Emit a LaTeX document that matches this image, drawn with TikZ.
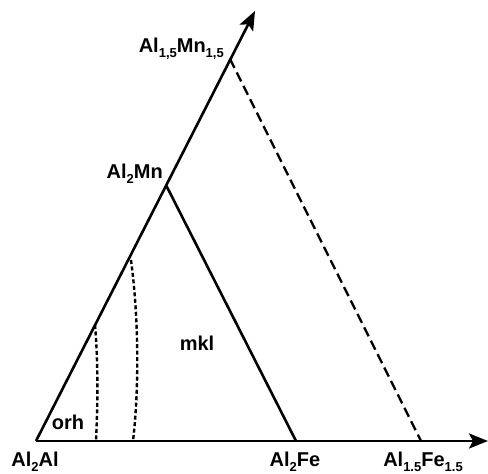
\documentclass[tikz,border=0pt]{standalone}
\usepackage{fontspec}
\setmainfont{Liberation Sans}
\usetikzlibrary{arrows.meta,calc}
\newcommand\sbx[1]{\raisebox{-0.45ex}{\fontsize{13}{13}\selectfont #1}}
\begin{document}
\begin{tikzpicture}[x=1pt,y=-1pt,
  axisline/.style={line width=2.6pt,-{Stealth[length=19pt,width=15pt,inset=4pt]}},
  solidline/.style={line width=2.6pt},
  dashline/.style={line width=2.4pt,dash pattern=on 10pt off 5pt},
  dotline/.style={line width=2.4pt,dash pattern=on 4pt off 2.5pt},
  lbl/.style={font=\fontsize{20}{20}\selectfont\bfseries,inner sep=0pt}]
\useasboundingbox (0,0) rectangle (488,474);
\coordinate (o) at (36,441);
\coordinate (xend) at (488,441);
\coordinate (yend) at (255,11);
\coordinate (mn2) at (166,185);
\coordinate (mn15) at (230,59);
\coordinate (fe2) at (296,441);
\coordinate (fe15) at (421,441);
\coordinate (d1t) at (95,325);
\coordinate (d1b) at (96,441);
\coordinate (d2t) at (131,260);
\coordinate (d2b) at (133,441);
\draw[axisline] (o) -- (xend);
\draw[axisline] (o) -- (yend);
\draw[solidline] (mn2) -- (fe2);
\draw[dashline] (mn15) -- (fe15);
\draw[dotline] (d1t) .. controls (98,360) and (98,400) .. (d1b);
\draw[dotline] (d2t) .. controls (139,320) and (139,390) .. (d2b);
\node[lbl] (lo) at (35,462) {Al\sbx{2}Al};
\node[lbl] (lfe2) at (295,462) {Al\sbx{2}Fe};
\node[lbl] (lfe15) at (423,462) {Al\sbx{1.5}Fe\sbx{1.5}};
\node[lbl,anchor=east] (lmn2) at (163,174) {Al\sbx{2}Mn};
\node[lbl,anchor=east] (lmn15) at (224,49) {Al\sbx{1,5}Mn\sbx{1,5}};
\node[lbl] (lorh) at (68,422) {orh};
\node[lbl] (lmkl) at (197,343) {mkl};
\end{tikzpicture}
\end{document}
